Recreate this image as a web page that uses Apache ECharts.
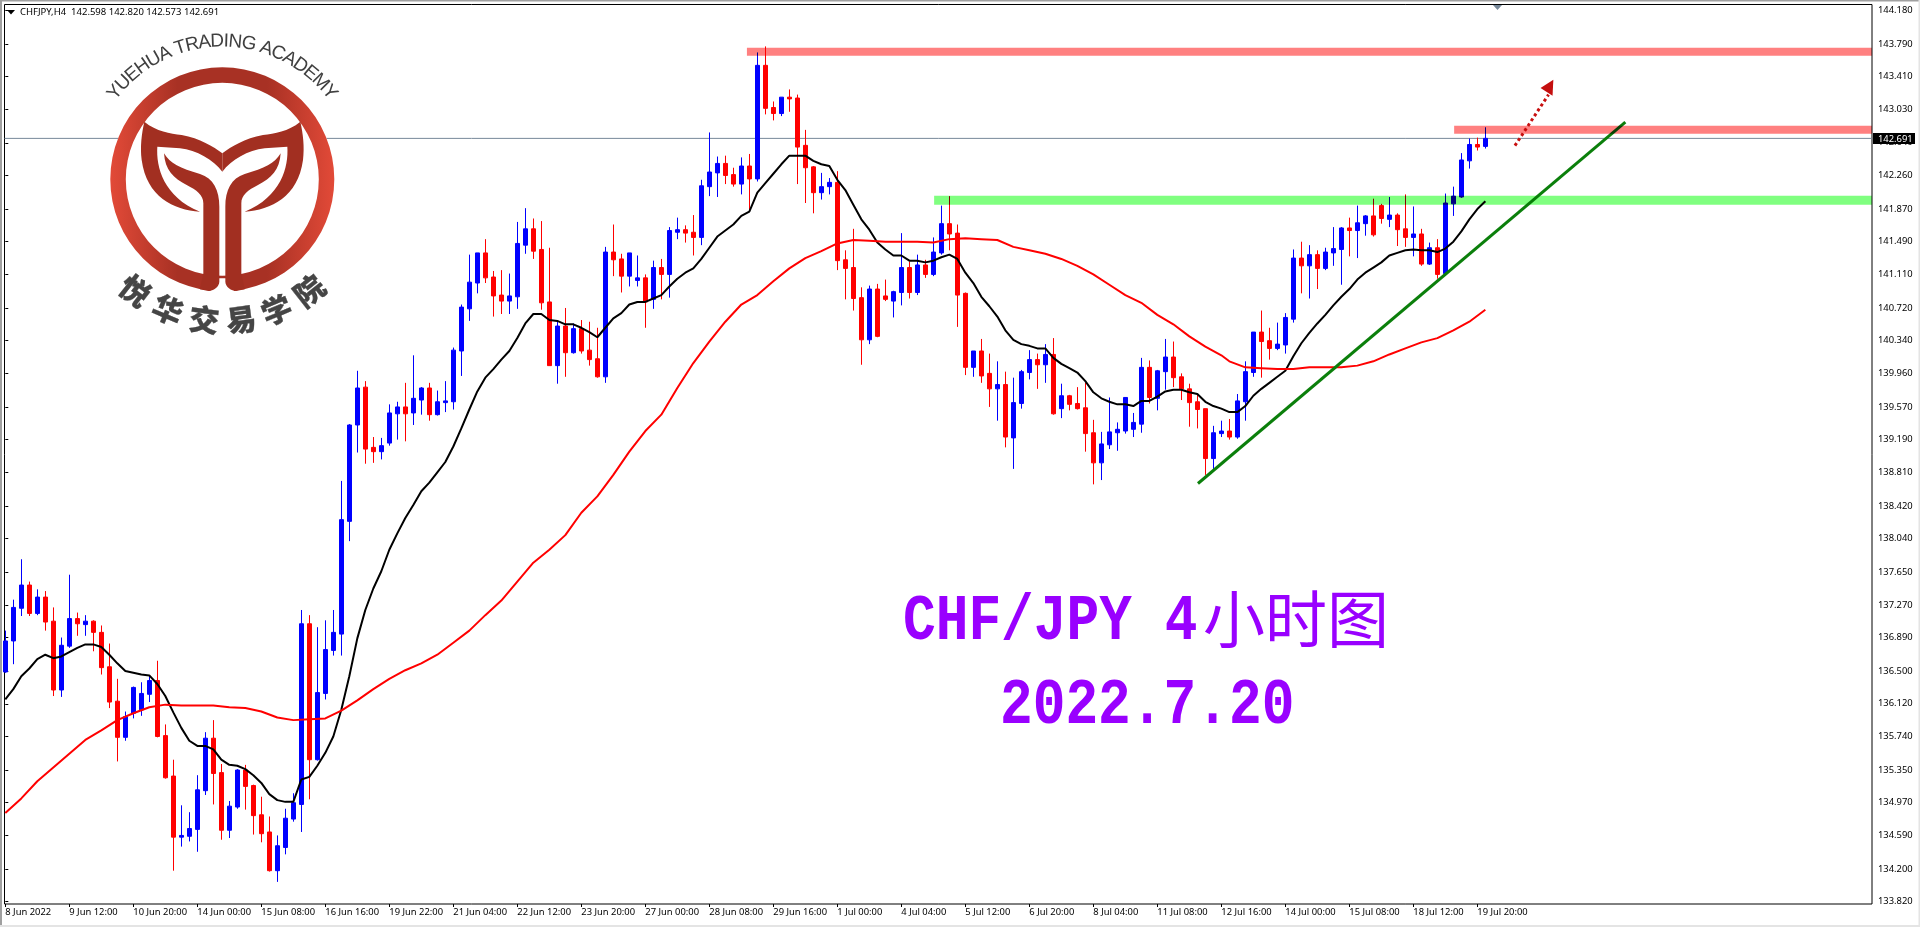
<!DOCTYPE html>
<html><head><meta charset="utf-8">
<style>html,body{margin:0;padding:0;background:#fff}#c{width:1920px;height:927px}</style>
<script src="https://cdn.jsdelivr.net/npm/echarts@6/dist/echarts.min.js"></script>
</head><body><div id="c"></div>
<script>
const opens=[136.49,136.85,137.23,137.50,137.17,137.36,137.08,136.28,136.79,137.11,
137.04,137.08,136.95,136.55,136.15,135.73,136.01,136.05,136.23,136.39,
135.75,135.28,134.57,134.58,134.66,135.11,135.72,135.32,134.65,134.92,
135.35,135.17,134.83,134.63,134.18,134.45,134.78,134.95,137.05,135.47,
136.24,136.74,136.93,138.24,139.36,139.80,139.10,139.05,139.15,139.49,
139.57,139.50,139.65,139.79,139.48,139.62,139.63,140.22,140.71,141.01,
141.36,141.08,140.87,140.80,140.85,141.45,141.64,141.40,140.79,140.05,
140.51,140.20,140.48,140.23,140.13,139.92,141.37,141.29,141.09,141.04,
141.07,140.82,141.19,141.11,141.60,141.63,141.60,141.54,142.13,142.29,
142.40,142.27,142.16,142.37,142.22,143.54,143.05,142.98,143.17,143.16,
142.61,142.36,142.06,142.13,142.18,141.28,141.19,140.84,140.35,140.94,
140.86,140.80,140.90,141.19,140.90,141.22,141.11,141.36,141.70,141.59,
140.89,140.03,140.22,139.96,139.78,139.83,139.21,139.61,139.97,140.12,
140.06,140.18,139.55,139.70,139.61,139.56,139.27,138.92,139.13,139.27,
139.29,139.31,139.37,140.03,139.67,139.98,140.15,139.92,139.78,139.63,
139.55,138.97,139.26,139.29,139.22,139.63,139.97,140.44,140.34,140.25,
140.29,140.59,141.30,141.21,141.34,141.18,141.36,141.40,141.65,141.62,
141.70,141.79,141.91,141.75,141.80,141.64,141.54,141.58,141.23,141.42,
141.12,141.93,142.01,142.43,142.62,142.598];
const highs=[136.97,137.33,137.80,137.54,137.45,137.43,137.24,136.89,137.62,137.18,
137.15,137.09,137.03,136.82,136.41,136.03,136.32,136.37,136.45,136.62,
135.88,135.47,134.94,134.86,135.29,135.79,135.93,135.42,134.99,135.36,
135.41,135.18,135.04,134.81,134.59,134.90,135.08,137.21,137.15,137.01,
137.09,137.21,138.71,139.37,139.99,139.87,139.22,139.21,139.60,139.63,
139.85,140.17,139.80,139.85,139.76,139.87,140.26,140.76,141.34,141.36,
141.52,141.15,141.16,141.12,141.72,141.88,141.76,141.73,141.42,140.56,
140.72,140.54,140.58,140.56,140.49,141.43,141.69,141.35,141.36,141.33,
141.11,141.27,141.29,141.66,141.77,141.68,141.80,142.21,142.76,142.48,
142.49,142.35,142.47,142.51,143.69,143.76,143.12,143.17,143.26,143.20,
142.79,142.37,142.29,142.23,142.31,141.39,141.64,140.96,140.98,141.00,
141.05,140.92,141.59,141.26,141.34,141.28,141.54,141.91,142.02,141.69,
140.90,140.22,140.36,140.19,140.10,139.98,139.91,140.00,140.23,140.19,
140.30,140.37,139.84,139.71,139.80,139.85,139.42,139.28,139.68,139.39,
139.68,139.50,140.14,140.11,140.00,140.36,140.33,139.96,139.84,139.71,
139.55,139.35,139.41,139.43,139.72,140.10,140.44,140.69,140.49,140.55,
140.66,141.40,141.49,141.45,141.39,141.42,141.66,141.66,141.77,141.91,
141.80,141.99,141.93,142.01,141.82,142.04,141.90,141.64,141.48,141.52,
142.05,142.13,142.52,142.69,142.70,142.82];
const lows=[136.48,136.58,137.14,137.14,137.15,136.97,136.21,136.20,136.77,136.91,
136.91,136.73,136.46,136.07,135.45,135.69,135.95,135.98,136.14,135.73,
135.25,134.18,134.46,134.52,134.40,135.06,134.95,134.54,134.56,134.90,
134.89,134.60,134.51,134.17,134.05,134.37,134.75,134.63,135.01,135.46,
136.17,136.68,136.68,138.01,139.04,138.91,138.92,138.96,139.12,139.19,
139.17,139.36,139.48,139.41,139.47,139.51,139.54,139.93,140.57,140.89,
141.01,140.62,140.65,140.65,140.71,141.35,141.29,140.70,140.05,139.84,
139.92,140.19,140.19,140.05,139.91,139.85,141.09,140.90,140.97,140.97,
140.49,140.71,140.82,140.84,141.52,141.48,141.33,141.45,142.02,142.01,
142.16,142.13,142.04,141.86,142.19,142.97,142.90,142.95,143.00,142.16,
141.94,141.82,141.98,142.04,141.16,140.82,140.69,140.06,140.30,140.38,
140.80,140.61,140.75,140.83,140.87,141.07,141.09,141.34,141.39,140.50,
139.94,139.92,139.85,139.57,139.41,139.10,138.85,139.55,139.89,139.78,
139.85,139.48,139.44,139.53,139.54,139.05,138.67,138.72,139.08,139.06,
139.26,139.22,139.27,139.61,139.53,139.77,139.80,139.65,139.34,139.32,
138.78,138.84,139.22,139.19,139.20,139.41,139.92,139.91,140.12,140.23,
140.19,140.55,140.89,140.83,140.94,141.16,141.21,140.99,141.32,141.30,
141.56,141.55,141.70,141.66,141.44,141.43,141.32,141.21,141.22,141.06,
141.10,141.79,142.00,142.34,142.55,142.573];
const closes=[136.85,137.24,137.50,137.17,137.36,137.07,136.28,136.80,137.11,137.05,
137.08,136.95,136.54,136.14,135.73,135.97,136.31,136.24,136.39,135.74,
135.26,134.57,134.59,134.67,135.12,135.72,135.31,134.65,134.93,135.35,
135.16,134.82,134.61,134.18,134.47,134.79,134.97,137.05,135.47,136.25,
136.75,136.95,138.26,139.36,139.79,139.08,139.05,139.12,139.50,139.57,
139.49,139.67,139.79,139.48,139.63,139.64,140.23,140.73,141.02,141.36,
141.07,140.86,140.80,140.86,141.47,141.64,141.38,140.78,140.05,140.51,
140.20,140.48,140.22,140.12,139.92,141.37,141.28,141.09,141.36,141.07,
140.79,141.19,141.11,141.62,141.63,141.59,141.54,142.14,142.30,142.40,
142.26,142.16,142.37,142.22,143.54,143.04,142.98,143.17,143.15,142.59,
142.35,142.06,142.13,142.18,141.27,141.18,140.83,140.35,140.94,140.39,
140.82,140.91,141.19,140.90,141.22,141.11,141.37,141.70,141.58,140.87,
140.03,140.22,139.93,139.78,139.83,139.22,139.62,139.98,140.12,140.06,
140.18,139.49,139.70,139.60,139.55,139.26,138.92,139.14,139.28,139.31,
139.68,139.39,140.03,139.68,139.99,140.15,139.91,139.78,139.62,139.54,
138.97,139.27,139.29,139.22,139.64,139.98,140.44,140.33,140.25,140.30,
140.61,141.30,141.21,141.34,141.18,141.37,141.41,141.65,141.62,141.71,
141.79,141.57,141.76,141.80,141.63,141.54,141.58,141.23,141.42,141.11,
141.94,142.02,142.44,142.62,142.59,142.691];
const blackLine=[136.17,136.29,136.44,136.53,136.64,136.69,136.65,136.67,136.72,136.77,
136.81,136.81,136.78,136.69,136.59,136.50,136.48,136.46,136.45,136.35,
136.21,136.02,135.84,135.69,135.63,135.63,135.59,135.47,135.41,135.40,
135.36,135.29,135.20,135.07,135.00,134.98,134.98,135.24,135.27,135.40,
135.55,135.74,136.05,136.44,136.88,137.21,137.46,137.66,137.91,138.10,
138.28,138.43,138.59,138.69,138.81,138.93,139.11,139.32,139.54,139.75,
139.91,140.01,140.12,140.22,140.37,140.54,140.65,140.65,140.58,140.57,
140.53,140.53,140.49,140.44,140.38,140.49,140.60,140.66,140.76,140.79,
140.79,140.83,140.87,140.97,141.06,141.13,141.18,141.29,141.42,141.55,
141.62,141.69,141.79,141.84,142.06,142.17,142.28,142.39,142.49,142.49,
142.49,142.43,142.39,142.37,142.21,142.09,141.92,141.75,141.63,141.48,
141.40,141.33,141.33,141.27,141.27,141.25,141.27,141.31,141.34,141.29,
141.13,141.01,140.85,140.74,140.62,140.46,140.35,140.30,140.28,140.25,
140.25,140.14,140.07,140.02,139.97,139.87,139.74,139.67,139.63,139.60,
139.60,139.58,139.64,139.64,139.69,139.75,139.77,139.77,139.74,139.72,
139.63,139.58,139.55,139.51,139.51,139.58,139.70,139.78,139.85,139.92,
139.99,140.16,140.31,140.43,140.54,140.64,140.75,140.85,140.94,141.05,
141.13,141.19,141.25,141.33,141.36,141.39,141.40,141.39,141.39,141.37,
141.41,141.49,141.61,141.75,141.87,141.96];
const redIdx=[0,2,4,6,8,10,12,14,16,18,20,22,24,26,28,30,32,34,36,38,40,42,44,46,48,50,52,54,56,58,60,62,64,66,68,70,72,74,76,78,80,82,84,86,88,90,92,94,96,98,100,102,104,106,108,110,112,114,116,118,120,122,124,126,128,130,132,134,136,138,140,142,144,146,148,150,152,153,155,157,159,161,163,165,167,169,171,173,175,177,179,181,183,185];
const redLine=[134.85,135.02,135.22,135.38,135.54,135.70,135.81,135.93,136.01,136.08,136.11,136.10,136.10,136.10,136.08,136.07,136.03,135.96,135.93,135.94,135.95,136.04,136.16,136.29,136.41,136.51,136.59,136.69,136.83,136.97,137.15,137.32,137.54,137.76,137.91,138.08,138.34,138.53,138.78,139.05,139.29,139.48,139.79,140.08,140.33,140.56,140.76,140.87,141.03,141.18,141.30,141.38,141.47,141.51,141.50,141.49,141.49,141.49,141.48,141.52,141.53,141.52,141.51,141.43,141.39,141.35,141.29,141.21,141.11,140.99,140.87,140.78,140.64,140.53,140.39,140.27,140.17,140.10,140.03,140.02,140.01,140.01,140.03,140.03,140.03,140.05,140.10,140.18,140.25,140.32,140.37,140.46,140.56,140.70];
const timeTickIdx=[0,8,16,24,32,40,48,56,64,72,80,88,96,104,112,120,128,136,144,152,160,168,176,184];
const timeLabels=['8 Jun 2022','9 Jun 12:00','10 Jun 20:00','14 Jun 00:00','15 Jun 08:00','16 Jun 16:00','19 Jun 22:00','21 Jun 04:00','22 Jun 12:00','23 Jun 20:00','27 Jun 00:00','28 Jun 08:00','29 Jun 16:00','1 Jul 00:00','4 Jul 04:00','5 Jul 12:00','6 Jul 20:00','8 Jul 04:00','11 Jul 08:00','12 Jul 16:00','14 Jul 00:00','15 Jul 08:00','18 Jul 12:00','19 Jul 20:00'];
const priceTicks=[144.18,143.79,143.41,143.03,142.64,142.26,141.87,141.49,141.11,140.72,140.34,139.96,139.57,139.19,138.81,138.42,138.04,137.65,137.27,136.89,136.5,136.12,135.74,135.35,134.97,134.59,134.2,133.82];
const lastPrice=142.691;
const bands=[[92.7,233.33,143.744,143.651,'#ff8080'],[181.1,233.33,142.838,142.745,'#ff8080'],[116.1,233.33,142.025,141.920,'#80ff80']];
const trendLine=[[149.08,138.68],[202.5,142.88]];
const arrowLine=[[188.7,142.606],[192.9,143.2]];
const arrowHead=[[193.5,143.373],[191.9,143.276],[193.4,143.187]];
const header='CHFJPY,H4  142.598 142.820 142.573 142.691';

const chart=echarts.init(document.getElementById('c'),null,{renderer:'canvas'});
const candleData=opens.map((o,i)=>[i,o,closes[i],lows[i],highs[i]]);
const PURPLE='#9900ff';

/* ---------- logo, drawn in the zoomed-logo units (divide by 3) ---------- */
const LCX=222.3,LCY=179.3;
const wing='M433,365 C470,395 510,400 545,405 C600,415 640,440 667,460 L667,515 C640,480 590,450 540,445 L472,440 C468,500 490,590 600,635 C520,630 440,590 425,480 C420,440 425,400 433,365 Z';
const stem='M492,460 C510,490 540,505 600,522 C640,535 658,570 658,620 L658,845 C658,860 640,873 625,873 L600,868 L610,820 L610,610 C610,585 590,570 560,555 C520,535 495,510 492,460 Z';
const cut='M658,835 L676,835 L676,845 C676,860 694,873 709,873 L720,885 L614,885 L625,873 C640,873 658,860 658,845 Z';
const logoColor='#a22f21';
function logoItem(){
  const kids=[
   {type:'circle',shape:{cx:LCX,cy:LCY,r:112},style:{fill:'#fff'}},
   {type:'ring',shape:{cx:LCX,cy:LCY,r:112,r0:96.5},style:{fill:new echarts.graphic.LinearGradient(0,0,1,0,[{offset:0,color:'#e24a38'},{offset:0.3,color:'#a83124'},{offset:0.7,color:'#a83124'},{offset:1,color:'#e24a38'}])}}
  ];
  [[0,1/3],[444.67,-1/3]].forEach(([x,s])=>{
    kids.push({type:'path',x:x,y:0,scaleX:s,scaleY:1/3,shape:{pathData:wing},style:{fill:logoColor}});
    kids.push({type:'path',x:x,y:0,scaleX:s,scaleY:1/3,shape:{pathData:stem},style:{fill:logoColor}});
  });
  kids.push({type:'path',x:0,y:0,scaleX:1/3,scaleY:1/3,shape:{pathData:cut},style:{fill:'#fff'}});
  return {type:'group',children:kids};
}
const logoEls=[];
/* curved English caption */
(function(){
  const txt='YUEHUA TRADING ACADEMY',font='19px "Liberation Sans"';
  const ctx=document.createElement('canvas').getContext('2d');ctx.font=font;
  const w=[...txt].map(c=>ctx.measureText(c).width),tot=w.reduce((a,b)=>a+b,0);
  const R=128.5,span=107/180*Math.PI;let acc=0;
  [...txt].forEach((c,i)=>{
    const mid=acc+w[i]/2;acc+=w[i];
    const th=-span/2+span*mid/tot;
    logoEls.push({type:'text',z:30,x:LCX+R*Math.sin(th),y:LCY-R*Math.cos(th),rotation:-th,silent:true,
      style:{text:c,font:font,fill:'#404040',align:'center',verticalAlign:'bottom'}});
  });
})();
/* curved Chinese caption */
[['悦',-38],['华',-22.7],['交',-7.4],['易',7.6],['学',22.5],['院',38]].forEach(([c,a])=>{
  const th=a*Math.PI/180,R=141.5;
  logoEls.push({type:'text',z:30,x:LCX+R*Math.sin(th),y:LCY+R*Math.cos(th),rotation:th,silent:true,
    style:{text:c,font:'900 30px "Noto Sans CJK SC"',fill:'#454545',stroke:'#454545',lineWidth:0.3,align:'center',verticalAlign:'middle'}});
});

chart.setOption({
 animation:false,
 backgroundColor:'#fff',
 grid:{left:4.5,top:4.5,width:1867.5,height:899.5,show:true,borderColor:'#000',borderWidth:1,backgroundColor:'transparent',containLabel:false},
 xAxis:{type:'value',min:-0.1,max:233.33,position:'bottom',
  axisLine:{show:false},splitLine:{show:false},
  axisTick:{show:true,length:3,customValues:timeTickIdx,lineStyle:{color:'#000'}},
  axisLabel:{customValues:timeTickIdx,formatter:v=>timeLabels[timeTickIdx.indexOf(Math.round(v))]||'',
    align:'left',margin:4,color:'#000',fontFamily:'"Noto Sans"',fontSize:9.4,showMinLabel:true,showMaxLabel:true,hideOverlap:false}},
 yAxis:{type:'value',position:'right',min:133.793,max:144.247,
  axisLine:{show:false},splitLine:{show:false},
  axisTick:{show:true,length:3,customValues:priceTicks,lineStyle:{color:'#000'}},
  axisLabel:{customValues:priceTicks,formatter:v=>v.toFixed(3),margin:6,color:'#000',fontFamily:'"Noto Sans"',fontSize:9.4,hideOverlap:false}},
 series:[
  {type:'candlestick',name:'CHFJPY',data:candleData,encode:{x:0,y:[1,2,3,4]},barWidth:4,z:3,clip:true,silent:true,
   itemStyle:{color:'#0000ff',color0:'#ff0000',borderColor:'#0000ff',borderColor0:'#ff0000',borderWidth:1}},
  {type:'line',name:'MA fast',data:blackLine.map((v,i)=>[i,v]),showSymbol:false,symbol:'none',z:4,silent:true,lineStyle:{color:'#000',width:2}},
  {type:'line',name:'MA slow',data:redLine.map((v,i)=>[redIdx[i],v]),showSymbol:false,symbol:'none',z:4,silent:true,lineStyle:{color:'#ff0000',width:2}},
  {type:'line',name:'last',data:[[-0.1,lastPrice],[233.33,lastPrice]],showSymbol:false,symbol:'none',z:2,silent:true,lineStyle:{color:'#778899',width:1}},
  {type:'custom',name:'last tag',z:25,silent:true,clip:false,data:[lastPrice],encode:{y:0},
   renderItem:(p,api)=>{const c=api.coord([233.33,lastPrice]);
     return {type:'group',children:[
       {type:'rect',shape:{x:c[0]+1,y:c[1]-5.5,width:42,height:11},style:{fill:'#000'}},
       {type:'text',x:c[0]+6,y:c[1]+0.5,style:{text:lastPrice.toFixed(3),font:'9.4px "Noto Sans"',fill:'#fff',verticalAlign:'middle'}}]};}},
  {type:'line',name:'trend',data:trendLine,showSymbol:false,symbol:'none',z:5,silent:true,clip:false,lineStyle:{color:'#0b7f0b',width:3}},
  {type:'line',name:'target',data:arrowLine,showSymbol:false,symbol:'none',z:5,silent:true,lineStyle:{color:'#c81010',width:3,type:[3,2.9]}},
  {type:'custom',name:'head',z:5,silent:true,clip:false,data:[0],renderItem:(p,api)=>({type:'polygon',shape:{points:arrowHead.map(a=>api.coord(a))},style:{fill:'#c40f0f'}})},
  {type:'custom',name:'logo',z:20,silent:true,clip:false,coordinateSystem:'none',data:[0],encode:{},renderItem:()=>logoItem()}
 ],
 graphic:{elements:[
  {id:'e1',type:'rect',z:0,shape:{x:0,y:0,width:1920,height:1.5},style:{fill:'#a0a0a0'},silent:true},
  {id:'e2',type:'rect',z:0,shape:{x:0,y:0,width:2,height:925},style:{fill:'#a0a0a0'},silent:true},
  {id:'e3',type:'rect',z:0,shape:{x:0,y:925,width:1920,height:2},style:{fill:'#e4e4e4'},silent:true},
  {id:'e4',type:'rect',z:0,shape:{x:1918.5,y:0,width:1.5,height:927},style:{fill:'#e4e4e4'},silent:true},
  {id:'m1',type:'polygon',z:8,shape:{points:[[7,10],[15,10],[11,14.5]]},style:{fill:'#000'},silent:true},
  {id:'h',type:'text',z:8,x:20,y:12.5,style:{text:header,font:'9.5px "Noto Sans"',fill:'#000',verticalAlign:'middle'},silent:true},
  {id:'m2',type:'polygon',z:8,shape:{points:[[1493,5],[1502,5],[1497.5,10]]},style:{fill:'#778899'},silent:true},
  {id:'t1',type:'text',z:8,x:903,y:622.5,scaleY:1.2,style:{text:'CHF/JPY 4',font:'bold 54.5px "Liberation Mono"',fill:PURPLE,verticalAlign:'middle'},silent:true},
  {id:'t2',type:'text',z:8,x:1203,y:619,style:{text:'小时图',font:'62px "Noto Sans CJK SC"',fill:PURPLE,verticalAlign:'middle'},silent:true},
  {id:'t3',type:'text',z:8,x:1000,y:707,scaleY:1.2,style:{text:'2022.7.20',font:'bold 54.5px "Liberation Mono"',fill:PURPLE,verticalAlign:'middle'},silent:true},
  ...logoEls.map((e,i)=>Object.assign({id:'l'+i},e))
 ]}
});
/* price zones: positions come from the chart's own scales, blended over the marks */
chart.setOption({graphic:{elements:bands.map((b,i)=>{
  const a=chart.convertToPixel({gridIndex:0},[b[0],b[2]]),c=chart.convertToPixel({gridIndex:0},[b[1],b[3]]);
  return {id:'zone'+i,type:'rect',z:7,silent:true,shape:{x:a[0],y:a[1],width:c[0]-a[0],height:c[1]-a[1]},style:{fill:b[4],blend:'multiply'}};
})}});
</script></body></html>
